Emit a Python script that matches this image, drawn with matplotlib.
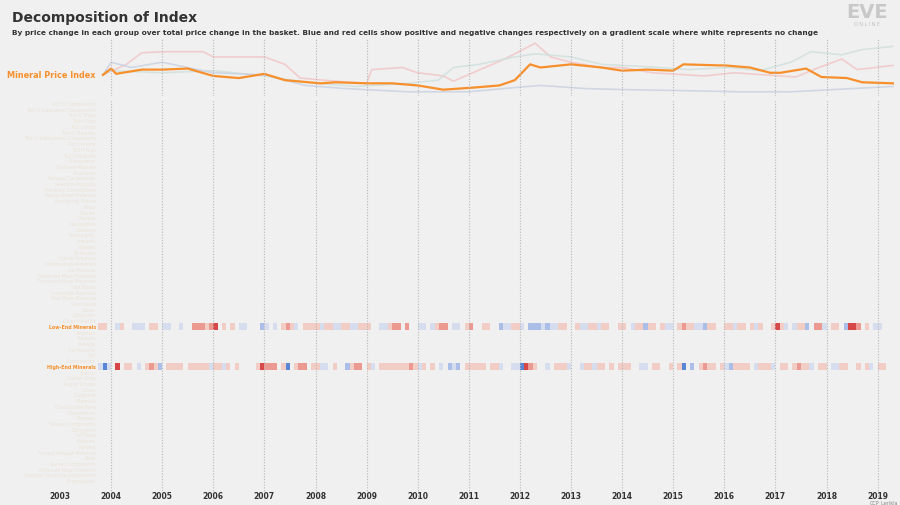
import matplotlib
matplotlib.use("Agg")
import matplotlib.pyplot as plt
import numpy as np
from matplotlib.colors import LinearSegmentedColormap

BG = "#f0f0f0"
FONT = "DejaVu Sans"
ST = "condensed"

# index lines (year, value)
orange_x = [2003.84, 2004.0, 2004.1, 2004.6, 2005.0, 2005.5, 2006.0, 2006.5, 2007.0, 2007.4, 2008.1,
            2008.4, 2009.0, 2009.5, 2010.0, 2010.5, 2011.1, 2011.6, 2011.9, 2012.2, 2012.4, 2013.0,
            2013.6, 2014.0, 2014.5, 2015.0, 2015.2, 2015.9, 2016.0, 2016.5, 2016.9, 2017.1, 2017.6,
            2017.9, 2018.4, 2018.7, 2019.3]
orange_y = [28, 34, 29, 33, 33, 34, 27, 25, 29, 23, 20, 21, 20, 20, 18, 14, 16, 18, 23, 38, 35, 38,
            35, 32, 33, 32, 38, 37, 37, 35, 30, 30, 34, 26, 25, 21, 20]
red_x = [2003.84, 2004.3, 2004.6, 2005.1, 2005.8, 2006.0, 2007.0, 2007.4, 2007.7, 2008.4, 2009.0,
         2009.1, 2009.7, 2010.0, 2010.5, 2010.7, 2011.7, 2012.3, 2012.6, 2013.0, 2013.6, 2014.0,
         2014.6, 2015.6, 2016.2, 2016.8, 2017.4, 2017.8, 2018.3, 2018.6, 2019.3]
red_y = [28, 38, 49, 50, 50, 45, 45, 38, 25, 22, 20, 33, 35, 30, 27, 22, 43, 58, 45, 40, 35, 35, 30,
         27, 30, 28, 26, 34, 43, 33, 37]
blue_x = [2003.84, 2004.0, 2004.4, 2005.0, 2006.0, 2007.0, 2007.8, 2008.6, 2009.8, 2011.0, 2011.9,
          2012.4, 2013.3, 2014.1, 2015.3, 2016.3, 2017.3, 2018.1, 2019.3]
blue_y = [28, 40, 35, 40, 30, 28, 18, 15, 12, 12, 16, 18, 15, 14, 13, 12, 12, 14, 17]
green_x = [2003.84, 2004.0, 2005.0, 2006.0, 2007.0, 2007.8, 2008.8, 2009.8, 2010.4, 2010.7, 2011.2,
           2011.9, 2012.3, 2013.0, 2013.6, 2014.4, 2015.3, 2016.1, 2016.7, 2017.3, 2017.7, 2018.3,
           2018.7, 2019.3]
green_y = [28, 32, 30, 32, 27, 21, 17, 20, 23, 35, 38, 45, 48, 45, 38, 36, 33, 35, 32, 40, 50, 47,
           52, 55]

# monthly heatmap values, Oct 2003 .. Mar 2019 (positive = blue, negative = red)
low_end = [-1, -1, 0,
           0, 1, -1, 0, 0, 1, 1, 1, 0, -1, -1, 0,
           1, 1, 0, 0, 1, 0, 0, -2, -2, -2, -1, -2,
           -3, 0, -1, 0, -1, 0, 1, 1, 0, 0, 0, 2,
           1, 0, 1, 0, -1, -2, -1, 1, 0, -1, -1, -1,
           -1, 1, -1, -1, 1, 1, -1, -1, 1, 1, -1, -1,
           -1, 0, 0, 1, 1, -1, -2, -2, 0, -2, 0, 0,
           1, 1, 0, 1, -1, -2, -2, 0, 1, 1, 0, -1,
           -2, 0, 0, -1, -1, 0, 0, 2, 1, 1, -1, -1,
           1, 0, 2, 2, 2, 1, 2, 1, 1, -1, -1, 0,
           0, -1, 1, 1, -1, -1, 1, -1, -1, 0, 0, -1,
           -1, 0, 1, -1, -1, 2, -1, -1, 0, -1, 1, 1,
           0, -1, -2, -1, -1, 1, 1, 2, -1, -1, 0, 0,
           -1, -1, 1, -1, -1, 0, -1, 1, -1, 0, 0, -1,
           -3, -1, 1, 0, 1, -1, -1, 2, 0, -2, -2, 1,
           0, -1, -1, 0, 2, -3, -3, -2, 0, -1, 0, 1,
           1, 0, 0]
high_end = [1, 3, 1,
            0, -3, 0, -1, -1, 0, 1, 0, -1, -2, -1, 2,
            0, -1, -1, -1, -1, 0, -1, -1, -1, -1, -1, 1,
            -1, -1, 1, -1, 0, -1, 0, 0, 0, 0, -1, -3,
            -2, -2, -2, 0, -1, 3, 0, -1, -2, -2, 0, -1,
            -1, 1, 1, 0, -1, 0, 0, 2, -1, -2, -2, 0,
            -1, 1, 0, -1, -1, -1, -1, -1, -1, -1, -2, -1,
            1, -1, 0, -1, 0, 1, 0, 2, 1, 2, 0, -1,
            -1, -1, -1, -1, 0, -1, -1, 1, 0, 0, 1, 1,
            3, -3, -2, -1, 0, 0, 1, 0, -1, -1, -1, 1,
            0, 0, 1, -1, -1, 1, -1, -1, 0, -1, 0, -1,
            -1, -1, 0, 0, 1, 1, 0, -1, -1, 0, 0, -1,
            0, -1, 3, 0, 2, 0, -1, -2, -1, -1, 0, -1,
            1, 2, -1, -1, -1, -1, 0, 1, -1, -1, -1, 1,
            0, -1, -1, 0, -1, -2, -1, -1, 1, 0, -1, -1,
            0, 1, 1, -1, -1, 0, 0, -1, 0, -1, 1, 0,
            -1, -1, 0]

# faint group labels (rows top to bottom)
row_labels = ["Tech III Components", "Tech II Subsystem Components", "Tech II Ships", "Tech I Rigs",
              "Tech I Ships", "Tech II Modules", "Tech II Subsystems Components", "Tech I Ammo",
              "Tech I Rigs", "Tech I Modules", "Subsystems", "Starbase Modules", "Structures",
              "Salvage Components", "Reaction Products", "Planetary Commodities",
              "Reprocessed Materials", "Monitoring Drones", "Ships", "Drones", "Charges",
              "Deployables", "Boosters", "Sovereignty", "Implants", "Apparel", "Skillbooks",
              "Hybrid Polymers", "Intermediate Materials", "Ice Products", "Advanced Moon Materials",
              "Processed Moon Materials", "Fuel Blocks", "Composite Materials",
              "Raw Moon Materials", "Gas Clouds", "Gases", "Datacores", "Other Minerals",
              "Low-End Minerals", "Polymers", "Products", "Salvage", "Ice Products", "Ore",
              "Commodities", "High-End Minerals", "Special", "Capital Ships", "Rogue Drones",
              "Cores", "Blueprints", "Materials", "Construction Parts", "Components", "Biomass",
              "Sleeper Components", "Decryptors", "Hull Mods", "Modules", "Harvest",
              "Ancient Salvage Materials", "Parts", "Named Components", "Advanced Moon Materials",
              "Starbase Structure Components", "Shipmodules"]

fig = plt.figure(figsize=(9, 5.06), dpi=100)
fig.patch.set_facecolor(BG)
xlim = (2003 - 60 / 51.1, 2003 + 840 / 51.1)

# top line chart
ax1 = fig.add_axes([0, 1 - 97 / 506, 1, 57 / 506])
ax1.set_facecolor("none")
ax1.set_xlim(xlim)
ax1.set_ylim(8, 62)
ax1.plot(red_x, red_y, color="#f2c4c4", lw=1.2, alpha=0.8)
ax1.plot(green_x, green_y, color="#cfe0dc", lw=1.2, alpha=0.8)
ax1.plot(blue_x, blue_y, color="#c8d1e2", lw=1.2, alpha=0.8)
ax1.plot(orange_x, orange_y, color="#f7902c", lw=1.6)
ax1.text(2003.7, 28, "Mineral Price Index", color="#f7902c", ha="right", va="center",
         fontsize=6.5, family=FONT, fontstretch=ST, fontweight="bold")
for yr in range(2004, 2020):
    ax1.axvline(yr, color="#b8b8b8", lw=0.8, ls=(0, (1, 1.5)))
ax1.axis("off")

# heatmap
n = len(row_labels)
ax2 = fig.add_axes([0, 1 - 500 / 506, 1, 400 / 506])
ax2.set_facecolor("none")
ax2.set_xlim(xlim)
ax2.set_ylim(n + 2.2, -0.8)
for yr in range(2004, 2020):
    ax2.axvline(yr, color="#b8b8b8", lw=0.8, ls=(0, (1, 1.5)))

cmap = LinearSegmentedColormap.from_list("rb", ["#d0262a", "#f2b4a8", BG, "#c4d0ee", "#3a6fd0"])
months = 2003 + 9 / 12 + np.arange(len(low_end)) / 12
for name, vals in [("Low-End Minerals", low_end), ("High-End Minerals", high_end)]:
    r = row_labels.index(name)
    v = np.array(vals, dtype=float)[None, :]
    ax2.pcolormesh(np.append(months, months[-1] + 1 / 12), [r - 0.55, r + 0.55], v,
                   cmap=cmap, vmin=-3.4, vmax=3.4, shading="flat")

for i, lab in enumerate(row_labels):
    hi = lab in ("Low-End Minerals", "High-End Minerals")
    ax2.text(2003.7, i, lab, ha="right", va="center", fontsize=3.6 if not hi else 3.8,
             family=FONT, fontstretch=ST, fontweight="bold" if hi else "normal",
             color="#f7902c" if hi else "#ece3d6")

for yr in range(2003, 2020):
    ax2.text(yr, n + 1.6, str(yr), ha="center", va="center", fontsize=5.5, family=FONT,
             fontweight="bold", color="#333333")
ax2.axis("off")

fig.text(12 / 900, 1 - 18 / 506, "Decomposition of Index", fontsize=10, family=FONT,
         fontweight="bold", color="#333333", va="center")
fig.text(12 / 900, 1 - 33 / 506,
         "By price change in each group over total price change in the basket. Blue and red cells "
         "show positive and negative changes respectively on a gradient scale where white represents no change",
         fontsize=5.3, family=FONT, fontweight="bold", color="#333333", va="center")
fig.text(867 / 900, 1 - 12 / 506, "EVE", fontsize=14, family=FONT, color="#c8c8c8",
         ha="center", va="center", fontweight="bold")
fig.text(867 / 900, 1 - 25 / 506, "O N L I N E", fontsize=3.5, color="#c0c0c0", ha="center",
         va="center")
fig.text(898 / 900, 1 - 503 / 506, "CCP_Lerikla", fontsize=3.5, family=FONT, color="#888888",
         ha="right", va="center")

fig.savefig("out.png", dpi=100, facecolor=BG)
